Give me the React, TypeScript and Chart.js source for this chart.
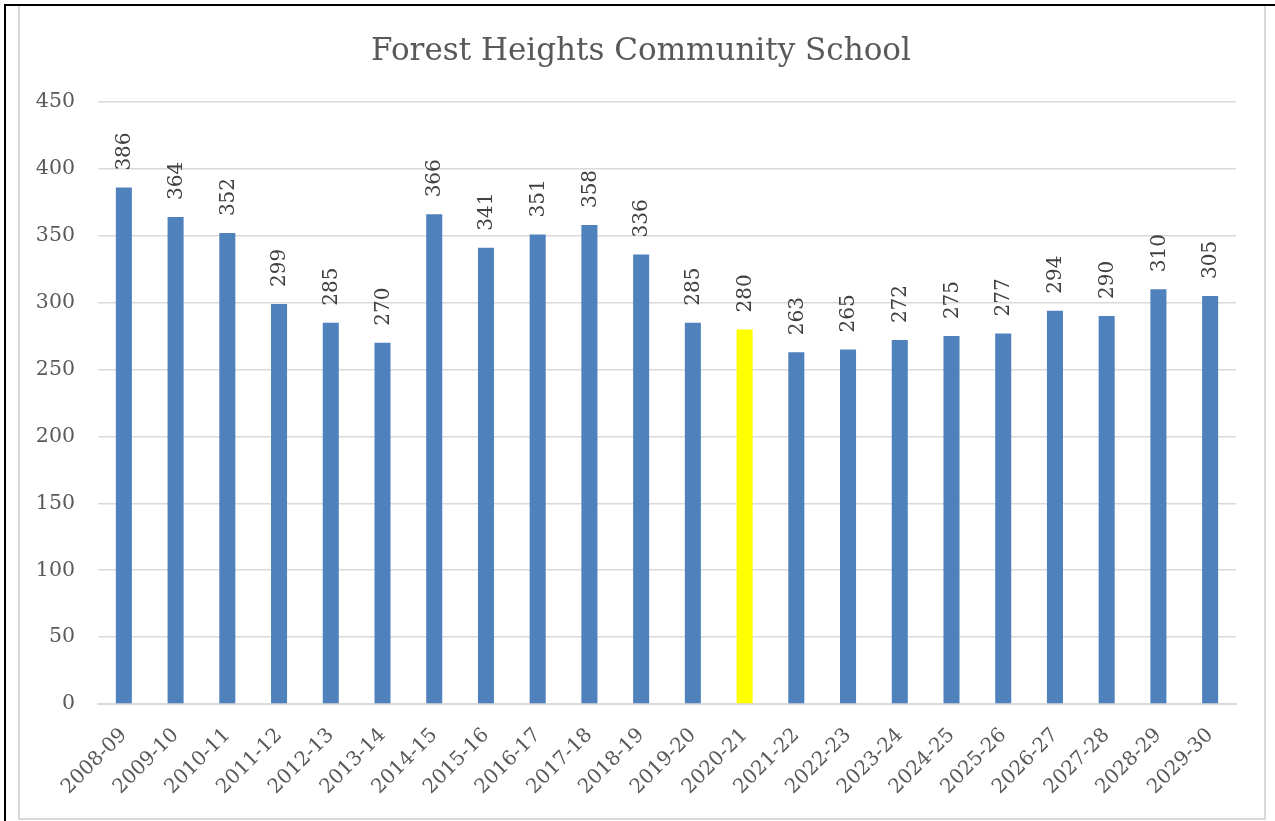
import React, { useEffect, useRef } from "react";
import { Chart, registerables } from "chart.js";

Chart.register(...registerables);

const TITLE = "Forest Heights Community School";
const CATEGORIES = [
  "2008-09", "2009-10", "2010-11", "2011-12", "2012-13", "2013-14", "2014-15", "2015-16",
  "2016-17", "2017-18", "2018-19", "2019-20", "2020-21", "2021-22", "2022-23", "2023-24",
  "2024-25", "2025-26", "2026-27", "2027-28", "2028-29", "2029-30",
];
const ENROLMENT = [
  386, 364, 352, 299, 285, 270, 366, 341, 351, 358, 336, 285, 280, 263, 265, 272, 275, 277,
  294, 290, 310, 305,
];
const HIGHLIGHT = "2020-21";
const Y_MIN = 0;
const Y_MAX = 450;
const Y_STEP = 50;

const BAR_COLOR = "#4f81bd";
const HIGHLIGHT_COLOR = "#ffff00";
const TEXT_COLOR = "#595959";
const LABEL_COLOR = "#404040";
const GRID_COLOR = "#d9d9d9";
const FONT = "'DejaVu Serif', serif";

const titlePlugin = {
  id: "fixedTitle",
  afterDraw(chart: any) {
    const ctx = chart.ctx;
    ctx.save();
    ctx.fillStyle = TEXT_COLOR;
    ctx.font = `31px ${FONT}`;
    ctx.textAlign = "center";
    ctx.textBaseline = "alphabetic";
    ctx.fillText(TITLE, 641, 60);
    ctx.restore();
  },
};

// rotated category labels under the x axis, right end anchored below each tick
const categoryLabels = {
  id: "categoryLabels",
  afterDraw(chart: any) {
    const ctx = chart.ctx;
    const xScale = chart.scales.x;
    ctx.save();
    ctx.fillStyle = TEXT_COLOR;
    ctx.font = `20px ${FONT}`;
    ctx.textAlign = "right";
    ctx.textBaseline = "middle";
    chart.data.labels.forEach((label: string, i: number) => {
      const px = xScale.getPixelForTick(i);
      ctx.save();
      ctx.translate(px, xScale.top + 28);
      ctx.rotate(-Math.PI / 4);
      ctx.fillText(label, 0, 0);
      ctx.restore();
    });
    ctx.restore();
  },
};

const valueLabels = {
  id: "valueLabels",
  afterDatasetsDraw(chart: any) {
    const ctx = chart.ctx;
    const meta = chart.getDatasetMeta(0);
    ctx.save();
    ctx.fillStyle = LABEL_COLOR;
    ctx.font = `20px ${FONT}`;
    ctx.textAlign = "left";
    ctx.textBaseline = "middle";
    meta.data.forEach((bar: any, i: number) => {
      const v = chart.data.datasets[0].data[i];
      ctx.save();
      ctx.translate(bar.x + 1, bar.y - 17);
      ctx.rotate(-Math.PI / 2);
      ctx.fillText(String(v), 0, 0);
      ctx.restore();
    });
    ctx.restore();
  },
};

export default function App() {
  const ref = useRef<HTMLCanvasElement | null>(null);
  useEffect(() => {
    if (!ref.current) return;
    const chart = new Chart(ref.current, {
      type: "bar",
      data: {
        labels: CATEGORIES,
        datasets: [
          {
            data: ENROLMENT,
            backgroundColor: CATEGORIES.map((c) => (c === HIGHLIGHT ? HIGHLIGHT_COLOR : BAR_COLOR)),
            borderWidth: 0,
            barPercentage: 0.31,
            categoryPercentage: 1,
          },
        ],
      },
      options: {
        responsive: false,
        animation: false,
        layout: { padding: { left: 0, right: 39, top: 102, bottom: 17 } },
        plugins: {
          legend: { display: false },
          tooltip: { enabled: false },
          title: { display: false },
        },
        scales: {
          x: {
            grid: { display: false, drawTicks: false },
            border: { display: true, color: GRID_COLOR, width: 2 },
            ticks: { display: false },
            afterFit: (scale: any) => {
              scale.height = 100;
            },
          },
          y: {
            min: Y_MIN,
            max: Y_MAX,
            grid: { color: GRID_COLOR, lineWidth: 1.5, drawTicks: false },
            border: { display: false },
            ticks: {
              stepSize: Y_STEP,
              color: TEXT_COLOR,
              font: { family: FONT, size: 20.5 },
              padding: 23,
            },
            afterFit: (scale: any) => {
              scale.width = 98;
            },
          },
        },
      },
      plugins: [valueLabels, categoryLabels, titlePlugin],
    });
    return () => chart.destroy();
  }, []);

  return (
    <div style={{ position: "absolute", left: 0, top: 0, width: 1275, height: 821, background: "#fff", overflow: "hidden" }}>
      <div
        style={{
          position: "absolute",
          left: 4,
          top: 4,
          width: 1275,
          height: 821,
          borderLeft: "2px solid #000",
          borderTop: "2px solid #000",
        }}
      />
      <div
        style={{
          position: "absolute",
          left: 18,
          top: 6,
          width: 1248,
          height: 814,
          border: `2px solid ${GRID_COLOR}`,
          borderTop: "none",
          boxSizing: "border-box",
        }}
      />
      <canvas ref={ref} width={1275} height={821} style={{ position: "absolute", left: 0, top: 0 }} />
    </div>
  );
}
